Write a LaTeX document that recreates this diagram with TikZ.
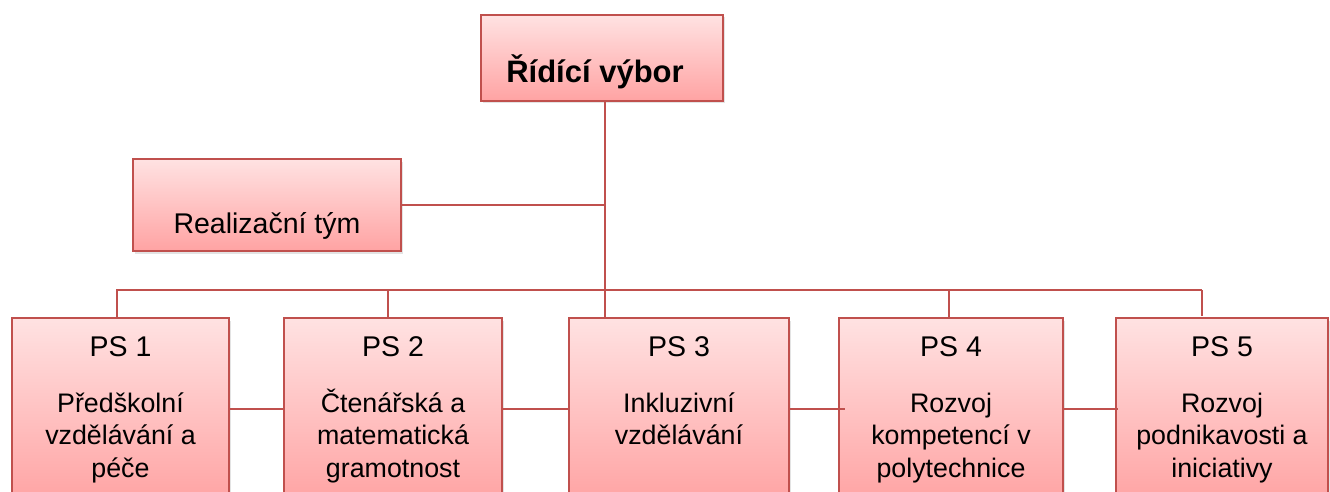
\documentclass[tikz,border=0pt]{standalone}
\usepackage{fontspec}
\setmainfont{Liberation Sans}
\usetikzlibrary{shadows}
\definecolor{edgered}{HTML}{C0504D}
\definecolor{ftop}{HTML}{FFE2E2}
\definecolor{fbot}{HTML}{FFA3A3}
\tikzset{
  box/.style={draw=edgered, line width=1.3pt, top color=ftop, bottom color=fbot,
    anchor=north west, inner sep=0pt, outer sep=0pt,
    drop shadow={opacity=0.22, shadow xshift=1.5pt, shadow yshift=-2.5pt}},
  conn/.style={draw=edgered, line width=1.3pt},
  pslbl/.style={font=\fontsize{28.5}{34}\selectfont, anchor=base, inner sep=0pt},
  body/.style={font=\fontsize{26.8}{32.5}\selectfont, align=center, anchor=base, inner sep=0pt},
}
\begin{document}
\begin{tikzpicture}[x=1pt,y=-1pt]
\useasboundingbox (0,0) rectangle (1330,492);
\clip (0,0) rectangle (1330,492);
% boxes
\node[box, minimum width=242pt, minimum height=86pt] (top) at (481,15) {};
\node[box, minimum width=268pt, minimum height=92pt] (rt) at (133,159) {};
\node[box, minimum width=217pt, minimum height=185pt] (ps1) at (12,318) {};
\node[box, minimum width=218pt, minimum height=185pt] (ps2) at (284,318) {};
\node[box, minimum width=220pt, minimum height=185pt] (ps3) at (569,318) {};
\node[box, minimum width=224pt, minimum height=185pt] (ps4) at (839,318) {};
\node[box, minimum width=212pt, minimum height=185pt] (ps5) at (1116,318) {};
% texts
\node[font=\fontsize{31}{36}\selectfont\bfseries, anchor=base, inner sep=0pt] (toptxt) at (595,83) {Řídící výbor};
\node[font=\fontsize{28.5}{34}\selectfont, anchor=base, inner sep=0pt] (rttxt) at (267,233) {Realizační tým};
\node[pslbl] (l1) at (120.5,356) {PS 1};
\node[pslbl] (l2) at (393,356) {PS 2};
\node[pslbl] (l3) at (679,356) {PS 3};
\node[pslbl] (l4) at (951,356) {PS 4};
\node[pslbl] (l5) at (1222,356) {PS 5};
\node[body] (b1) at (120.5,477) {Předškolní\\vzdělávání a\\péče};
\node[body] (b2) at (393,477) {Čtenářská a\\matematická\\gramotnost};
\node[body] (b3) at (679,444.5) {Inkluzivní\\vzdělávání};
\node[body] (b4) at (951,477) {Rozvoj\\kompetencí v\\polytechnice};
\node[body] (b5) at (1222,477) {Rozvoj\\podnikavosti a\\iniciativy};
% connectors
\coordinate (trunk) at (605,0);
\coordinate (bus) at (0,290);
\draw[conn] (top.south -| trunk) -- (ps3.north -| trunk);
\draw[conn] (rt.east) -- (rt.east -| trunk);
\coordinate (d1) at (117,318);
\coordinate (d2) at (388,318);
\coordinate (d4) at (949,318);
\coordinate (d5) at (1202,316);
\draw[conn] (d1) -- (d1 |- bus) -- (d5 |- bus);
\draw[conn] (d2) -- (d2 |- bus);
\draw[conn] (d4) -- (d4 |- bus);
\draw[conn, line width=2pt] (d5) -- (d5 |- bus);
\coordinate (mid) at (0,409);
\draw[conn] (ps1.east |- mid) -- (ps2.west |- mid);
\draw[conn] (ps2.east |- mid) -- (ps3.west |- mid);
\draw[conn] (ps3.east |- mid) -- ([xshift=6pt]ps4.west |- mid);
\draw[conn] (ps4.east |- mid) -- ([xshift=2pt]ps5.west |- mid);
\end{tikzpicture}
\end{document}
